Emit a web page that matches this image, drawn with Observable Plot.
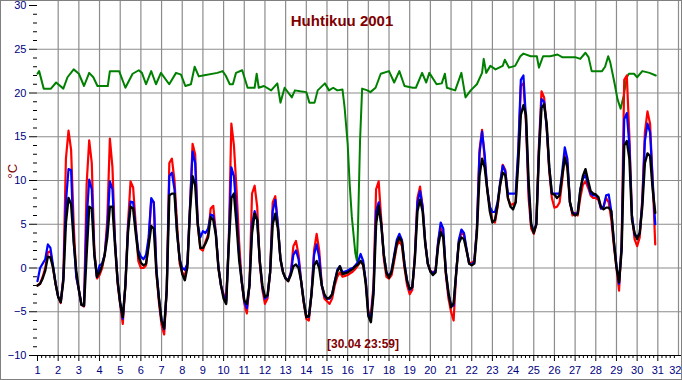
<!DOCTYPE html>
<html><head><meta charset="utf-8">
<script src="https://cdn.jsdelivr.net/npm/d3@7"></script>
<script src="https://cdn.jsdelivr.net/npm/@observablehq/plot@0.6"></script>
<style>
html,body{margin:0;padding:0;background:#fff;}
svg{display:block;outline:1px solid #808080;outline-offset:-1px;}
</style></head>
<body><div id="chart"></div>
<script>
const title = "Huhtikuu 2001";
const footer = "[30.04 23:59]";
const unit = "°C";
const xTicks = d3.range(1, 33);
const yTicks = [-10, -5, 0, 5, 10, 15, 20, 25, 30];
const stepsPerDay = 8; // 3-hour readings, first at 1.04 00:00

const red = [
 -2.0,-1.8,-1.0,0.0,1.8,1.9,0.0,-1.8,
 -3.3,-4.0,-1.0,12.5,15.7,13.5,5.0,-1.0,
 -2.5,-4.2,-4.4,9.5,14.6,12.0,2.0,-1.2,
 -0.8,0.0,1.5,5.5,14.8,11.5,3.0,-1.8,
 -4.2,-6.4,-2.0,5.0,9.9,9.2,5.0,0.8,
 0.0,0.0,0.3,3.0,7.7,7.5,-0.5,-4.0,
 -6.5,-7.6,-2.5,12.0,12.5,10.0,5.0,0.5,
 -0.5,-0.9,0.5,7.0,14.2,13.0,5.0,2.2,
 2.0,3.0,3.8,6.8,7.1,4.0,0.0,-2.0,
 -3.0,-3.7,3.0,16.5,14.0,9.0,3.0,-1.5,
 -4.0,-5.2,-2.0,8.5,9.4,7.0,0.5,-2.5,
 -4.1,-3.5,-0.5,7.5,8.2,5.0,1.0,-0.5,
 -1.2,-1.5,-0.5,2.5,3.1,1.5,-1.5,-4.0,
 -5.8,-6.0,-3.0,2.0,3.9,2.0,-2.0,-3.5,
 -3.8,-4.1,-3.5,-2.0,-1.0,-0.5,-1.0,-0.9,
 -0.8,-0.6,-0.4,-0.1,0.3,0.8,0.3,-1.5,
 -5.0,-5.2,-2.0,9.0,9.9,5.5,1.0,-1.0,
 -1.2,-0.8,0.8,2.5,3.1,2.5,0.0,-2.0,
 -3.0,-2.5,1.5,8.0,9.3,7.0,3.0,0.5,
 -0.3,-0.5,-0.3,3.0,4.6,3.8,-0.8,-3.5,
 -5.0,-6.0,-0.5,3.0,4.0,3.8,2.0,0.6,
 0.6,0.8,4.5,13.5,15.8,12.5,9.0,7.0,
 5.4,5.2,7.0,9.5,11.8,11.2,8.0,7.2,
 7.3,7.5,13.0,20.8,21.1,16.5,8.0,4.5,
 3.9,5.0,14.0,20.2,19.5,16.0,11.0,8.0,
 6.9,7.0,7.5,10.0,13.0,12.0,7.5,6.0,
 6.3,6.0,8.0,9.5,9.9,9.2,8.3,8.0,
 8.0,7.8,6.8,7.0,8.0,7.5,5.5,2.5,
 0.0,-2.6,3.0,21.5,22.0,15.0,6.0,3.3,
 2.5,3.5,8.0,15.5,17.9,16.5,10.0,2.7
];
const blue = [
 -1.5,0.0,0.5,1.0,2.7,2.3,0.3,-1.8,
 -3.3,-3.9,-1.2,7.5,11.3,11.2,3.0,-1.0,
 -2.5,-4.2,-4.3,5.5,10.1,9.0,1.5,-1.0,
 0.3,0.5,1.5,4.5,9.9,9.0,3.0,-1.5,
 -4.0,-5.8,-2.0,4.5,7.6,7.5,4.5,2.0,
 1.3,1.0,1.5,3.5,8.0,7.5,0.0,-3.5,
 -6.0,-7.0,-2.5,10.5,10.9,9.0,4.0,1.0,
 0.0,-0.2,0.5,7.0,13.3,12.0,5.0,3.5,
 4.2,4.0,4.5,6.1,6.0,4.0,0.2,-2.0,
 -3.2,-3.9,3.0,11.5,10.5,6.5,1.5,-1.5,
 -3.8,-4.6,-2.0,5.0,6.5,5.5,0.8,-2.2,
 -3.5,-3.2,-0.5,6.5,7.8,5.0,1.0,-0.5,
 -1.2,-1.4,-0.6,1.5,2.0,1.0,-1.5,-3.8,
 -5.5,-5.6,-3.0,1.5,2.7,1.2,-2.0,-3.2,
 -3.5,-3.5,-3.0,-1.5,-0.2,0.2,-0.5,-0.4,
 -0.3,-0.1,0.0,0.3,0.7,1.6,0.8,-1.5,
 -5.2,-5.8,-2.5,6.5,7.5,5.0,1.5,-0.5,
 -1.0,-0.3,1.5,3.2,3.9,3.2,0.5,-1.5,
 -2.5,-2.2,1.2,7.5,8.8,7.0,3.0,0.5,
 -0.4,-0.6,-0.3,3.0,5.2,4.5,-0.5,-3.0,
 -4.2,-4.3,-0.5,3.2,4.4,4.0,2.2,0.5,
 0.4,0.7,4.5,13.0,15.6,13.0,9.0,7.0,
 6.4,6.4,7.5,9.8,11.7,11.0,8.5,8.5,
 8.5,8.5,13.5,21.5,22.0,17.0,9.0,5.0,
 4.2,5.0,13.5,19.3,19.0,16.0,11.5,8.5,
 8.5,8.5,8.5,11.0,13.8,12.5,7.5,6.3,
 6.2,6.3,9.0,10.2,10.6,9.6,8.5,8.3,
 8.3,8.0,6.8,7.0,8.3,8.4,6.5,3.0,
 0.3,-1.8,2.5,17.0,17.7,14.0,6.0,3.8,
 3.5,4.0,7.5,14.5,16.5,15.5,10.0,5.0
];
const black = [
 -2.0,-1.8,-1.2,-0.3,1.3,1.2,0.1,-1.8,
 -3.3,-3.9,-1.5,5.2,8.0,7.3,3.1,-0.3,
 -2.5,-4.2,-4.3,1.5,7.0,6.8,1.5,-1.0,
 -0.5,0.3,1.5,3.5,7.0,7.0,2.5,-1.5,
 -4.0,-5.6,-2.0,4.0,7.0,6.8,4.0,1.5,
 0.6,0.3,0.5,2.5,4.8,4.5,-0.5,-3.5,
 -6.0,-6.9,-2.5,8.3,8.5,8.5,4.0,1.0,
 -0.7,-1.4,0.1,6.5,10.5,9.5,5.0,2.3,
 2.3,2.8,3.5,5.8,5.5,3.8,0.0,-2.0,
 -3.5,-4.1,2.5,8.0,8.5,5.0,1.0,-1.5,
 -3.7,-4.1,-2.0,4.0,6.2,5.5,0.8,-2.0,
 -3.3,-3.1,-0.5,5.0,6.2,4.5,1.0,-0.5,
 -1.2,-1.5,-0.8,0.2,0.4,0.0,-1.5,-3.8,
 -5.6,-5.5,-3.0,0.3,0.8,0.0,-2.0,-3.0,
 -3.5,-3.4,-3.0,-1.6,-0.4,0.2,-0.7,-0.6,
 -0.5,-0.3,-0.1,0.2,0.4,0.8,0.4,-1.8,
 -5.5,-6.2,-3.0,5.0,7.1,5.0,1.5,-0.5,
 -1.1,-0.4,1.2,2.8,3.5,3.0,0.3,-1.5,
 -2.4,-2.2,1.0,6.5,7.8,6.5,2.8,0.5,
 -0.4,-0.8,-0.5,2.5,4.1,3.5,-0.5,-2.8,
 -4.5,-4.0,-0.5,2.8,3.5,3.3,2.0,0.5,
 0.3,0.5,4.0,10.5,12.5,11.5,9.0,6.5,
 5.2,5.5,7.2,9.5,10.9,10.6,8.0,7.0,
 6.7,7.5,12.0,17.5,18.6,17.5,10.0,5.0,
 4.0,5.0,13.0,18.3,18.7,16.5,11.5,8.5,
 8.4,8.0,8.3,10.5,12.6,11.5,7.5,6.3,
 6.0,6.2,8.8,10.5,11.3,10.0,8.8,8.5,
 8.4,8.1,7.0,6.7,6.9,6.9,6.5,3.0,
 0.1,-1.6,2.0,14.0,14.5,12.5,5.5,4.0,
 3.3,4.0,7.0,12.0,13.1,12.8,9.0,6.3
];
// indoor (green) readings at their own times (day of month, fractional)
const greenT = [1.0,1.08,1.3,1.65,1.9,2.25,2.45,2.75,3.0,3.25,3.5,3.7,3.9,4.4,4.5,4.95,5.25,5.6,5.9,6.05,6.25,6.5,6.73,6.97,7.37,7.7,7.94,8.15,8.42,8.6,8.8,9.0,9.7,9.95,10.1,10.3,10.45,10.6,10.9,11.16,11.5,11.6,11.7,11.95,12.3,12.6,12.75,12.95,13.3,13.45,13.7,14.0,14.15,14.4,14.55,14.9,15.1,15.3,15.5,15.75,15.85,16.0,16.1,16.2,16.37,16.45,16.5,16.6,16.7,16.95,17.1,17.35,17.6,18.0,18.25,18.5,18.75,19.15,19.3,19.6,19.8,19.95,20.3,20.55,20.7,20.8,21.2,21.5,21.7,21.95,22.25,22.5,22.58,22.7,22.9,23.15,23.5,23.6,23.8,24.1,24.35,24.5,24.85,25.15,25.25,25.45,25.8,26.15,26.37,27.0,27.25,27.5,27.65,27.8,28.3,28.45,28.6,28.7,28.9,29.05,29.2,29.35,29.5,29.6,29.85,30.0,30.25,30.6,30.9];
const greenV = [22.2,22.5,20.5,20.5,21.2,20.5,21.8,22.7,22.2,20.8,22.3,21.8,20.8,20.8,22.5,22.5,20.6,22.2,22.6,22.3,21.0,22.5,21.0,22.3,21.0,22.3,22.1,20.8,21.0,23.0,21.9,22.0,22.3,22.5,22.0,21.0,21.0,22.3,22.6,20.6,20.6,22.2,20.6,20.8,20.3,21.1,18.9,20.6,19.5,20.3,20.2,20.1,18.9,18.9,20.3,21.1,20.3,20.6,20.3,20.4,18.4,14.2,9.5,5.9,1.7,0.8,4.7,14.6,20.5,20.3,20.1,20.6,22.2,22.5,21.2,22.5,20.8,20.6,20.6,22.3,21.2,22.3,21.0,21.1,22.2,20.6,20.3,22.3,19.5,20.3,21.0,22.3,23.9,22.3,23.1,22.7,23.1,23.8,22.9,23.1,24.2,24.5,24.2,24.2,22.9,24.2,24.2,24.4,24.1,24.1,23.9,24.6,24.1,22.5,22.5,23.0,24.2,23.5,21.2,19.3,18.2,19.7,21.8,22.2,22.2,21.8,22.5,22.3,22.0];

const toRows = (vals) => vals.map((v, i) => ({t: 1 + i / stepsPerDay, v}));
const green = greenT.map((t, i) => ({t, v: greenV[i]}));

const navy = "#000080", maroon = "#800000", gridC = "#8c8c8c";
const narrow = "'Liberation Sans Narrow','Arial Narrow','Liberation Sans',Arial,sans-serif";
const yMinor = d3.range(-10, 31).filter(d => d % 5 !== 0);
const xMinor = d3.range(1, 32).flatMap(d => [0.2, 0.4, 0.6, 0.8].map(f => d + f));

const chart = Plot.plot({
  width: 682, height: 380,
  marginLeft: 37, marginRight: 4, marginTop: 5, marginBottom: 25,
  x: {domain: [1, 32], axis: null},
  y: {domain: [-10, 30], axis: null},
  style: {background: "#fff", fontFamily: narrow, fontSize: "11px", overflow: "visible"},
  marks: [
    Plot.ruleX(xTicks.slice(1), {y1: -10, y2: 30.6, stroke: gridC, strokeWidth: 1.2, clip: false}),
    Plot.ruleY(yTicks.slice(1, -1), {x1: 1, x2: 32.2, stroke: gridC, strokeWidth: 1.2, clip: false}),
    Plot.ruleY([-10], {x1: 1, x2: 32.2, stroke: "#000", strokeWidth: 1.2, clip: false}),
    Plot.axisY({ticks: yTicks, tickSize: 8, tickPadding: 3, label: null, color: navy, stroke: "#000", fontFamily: narrow, fontSize: 11}),
    Plot.axisY({ticks: yMinor, tickSize: 4, text: null, label: null, stroke: "#000"}),
    Plot.axisX({ticks: xTicks.slice(0, -1), tickSize: 6, tickPadding: 5, label: null, color: navy, stroke: "#000", fontFamily: narrow, fontSize: 11}),
    Plot.axisX({ticks: xTicks.slice(-1), tickSize: 6, tickPadding: 5, label: null, color: navy, stroke: "#000", fontFamily: narrow, fontSize: 11, textAnchor: "end", dx: 3}),
    Plot.axisX({ticks: xMinor, tickSize: 3, text: null, label: null, stroke: "#000"}),
    Plot.line(green, {x: "t", y: "v", stroke: "#008000", strokeWidth: 2}),
    Plot.line(toRows(red), {x: "t", y: "v", stroke: "#ff0000", strokeWidth: 2.2}),
    Plot.line(toRows(blue), {x: "t", y: "v", stroke: "#0000ff", strokeWidth: 2.2}),
    Plot.line(toRows(black), {x: "t", y: "v", stroke: "#000000", strokeWidth: 2.4}),
    Plot.text([title], {frameAnchor: "top", dx: -16, dy: 10, fill: maroon, fontWeight: "bold", fontSize: 15, fontFamily: narrow}),
    Plot.text([footer], {frameAnchor: "bottom", dx: 5, dy: -8, fill: maroon, fontWeight: "bold", fontSize: 12, fontFamily: narrow}),
    Plot.text([unit], {frameAnchor: "left", dx: -25, dy: -2, rotate: -90, fill: maroon, fontSize: 13})
  ]
});
document.getElementById("chart").appendChild(chart);
</script></body></html>
